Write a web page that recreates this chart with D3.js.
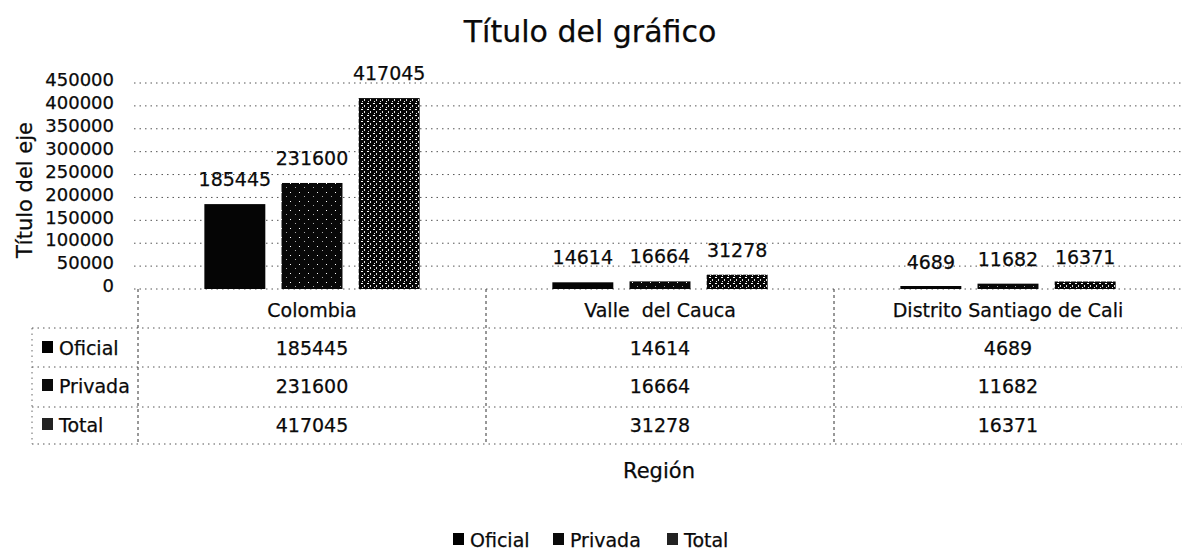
<!DOCTYPE html>
<html>
<head>
    <meta charset="utf-8">
    <style>
        body {
            margin: 0;
            background: #fff;
        }
        svg {
            display: block;
            font-family: 'DejaVu Sans', 'Open Sans', sans-serif;
        }
        svg text {
            stroke: #0a0a0a;
            stroke-width: 0.25px;
        }
    </style>
</head>
<body>
    <svg width="1204" height="550"></svg>
<script src="https://d3js.org/d3.v7.min.js"></script>
<script>
    // data
    let regions = ["Colombia", "Valle  del Cauca", "Distrito Santiago de Cali"];
    let series = ["Oficial", "Privada", "Total"];
    let oficial = [185445, 14614, 4689];
    let privada = [231600, 16664, 11682];
    let total = [417045, 31278, 16371];
    let yTicks = [0, 50000, 100000, 150000, 200000, 250000, 300000, 350000, 400000, 450000];

    let values = { Oficial: oficial, Privada: privada, Total: total };

    let svg = d3.select("svg");
    let margin = { top: 83, left: 138, right: 22 };
    let width = 1204 - margin.left - margin.right;
    let plotBottom = 289;
    let ink = "#0a0a0a";

    // speckle textures, the scan looks grainy
    let defs = svg.append("defs");
    let p1 = defs.append("pattern").attr("id", "pat-privada")
        .attr("width", 9).attr("height", 9).attr("patternUnits", "userSpaceOnUse");
    p1.append("rect").attr("width", 9).attr("height", 9).attr("fill", "#080808");
    p1.append("rect").attr("x", 2).attr("y", 3).attr("width", 1).attr("height", 1).attr("fill", "#fff");
    p1.append("rect").attr("x", 7).attr("y", 7).attr("width", 1).attr("height", 1).attr("fill", "#aaa");
    let p2 = defs.append("pattern").attr("id", "pat-total")
        .attr("width", 6).attr("height", 6).attr("patternUnits", "userSpaceOnUse");
    p2.append("rect").attr("width", 6).attr("height", 6).attr("fill", "#050505");
    p2.append("rect").attr("x", 1).attr("y", 1).attr("width", 2).attr("height", 1).attr("fill", "#fff");
    p2.append("rect").attr("x", 4).attr("y", 3).attr("width", 1).attr("height", 2).attr("fill", "#ddd");
    p2.append("rect").attr("x", 2).attr("y", 5).attr("width", 1).attr("height", 1).attr("fill", "#eee");

    let fills = { Oficial: "#050505", Privada: "url(#pat-privada)", Total: "url(#pat-total)" };
    let keyFills = { Oficial: "#000", Privada: "#0a0a0a", Total: "#222" };

    let x = d3.scaleBand()
        .domain(regions)
        .range([margin.left, margin.left + width]);

    let xInner = d3.scaleBand()
        .domain(series)
        .range([0, x.bandwidth()])
        .paddingInner(0.21)
        .paddingOuter(0.86);

    let y = d3.scaleLinear()
        .domain([0, 450000])
        .range([plotBottom, margin.top]);

    // title
    svg.append("text")
        .attr("x", 590).attr("y", 42)
        .attr("text-anchor", "middle")
        .attr("font-size", 30)
        .attr("fill", ink)
        .text("Título del gráfico");

    // gridlines
    svg.append("g")
        .selectAll("line")
        .data(yTicks)
        .join("line")
        .attr("x1", margin.left - 4)
        .attr("x2", margin.left + width)
        .attr("y1", d => y(d))
        .attr("y2", d => y(d))
        .attr("stroke", "#555")
        .attr("stroke-width", 1)
        .attr("stroke-dasharray", "1.5,4");

    // y axis labels
    let yAxis = svg.append("g")
        .attr("transform", "translate(114,-3)")
        .call(d3.axisLeft(y).tickValues(yTicks).tickSize(0).tickPadding(0).tickFormat(d3.format("d")));
    yAxis.select(".domain").remove();
    yAxis.selectAll("text")
        .attr("font-family", "'DejaVu Sans', 'Open Sans', sans-serif")
        .attr("font-size", 18)
        .attr("fill", ink);

    svg.append("text")
        .attr("transform", `translate(32,190) rotate(-90)`)
        .attr("text-anchor", "middle")
        .attr("font-size", 21)
        .attr("fill", ink)
        .text("Título del eje");

    // bars
    let barData = [];
    regions.forEach((r, i) => {
        series.forEach(s => {
            barData.push({ region: r, series: s, value: values[s][i] });
        });
    });

    svg.append("g")
        .selectAll("rect")
        .data(barData)
        .join("rect")
        .attr("x", d => x(d.region) + xInner(d.series))
        .attr("width", xInner.bandwidth())
        .attr("y", d => Math.min(y(d.value), plotBottom - 3))
        .attr("height", d => Math.max(plotBottom - y(d.value), 3))
        .attr("fill", d => fills[d.series]);

    svg.append("g")
        .selectAll("text")
        .data(barData)
        .join("text")
        .attr("x", d => x(d.region) + xInner(d.series) + xInner.bandwidth() / 2)
        .attr("y", d => y(d.value) - 18)
        .attr("text-anchor", "middle")
        .attr("font-size", 19)
        .attr("fill", ink)
        .text(d => d.value);

    // data table under the axis
    let rowLines = [328, 367, 407, 444];
    let baselines = [355, 393, 432];
    let tableLeft = 32;
    let tableRight = margin.left + width;
    let table = svg.append("g");

    table.selectAll(".hline")
        .data(rowLines)
        .join("line")
        .attr("class", "hline")
        .attr("x1", tableLeft)
        .attr("x2", tableRight)
        .attr("y1", d => d)
        .attr("y2", d => d)
        .attr("stroke", "#555")
        .attr("stroke-dasharray", "1.5,4");

    let vlines = [margin.left, x(regions[1]), x(regions[2])];
    table.selectAll(".vline")
        .data(vlines)
        .join("line")
        .attr("class", "vline")
        .attr("x1", d => d)
        .attr("x2", d => d)
        .attr("y1", plotBottom)
        .attr("y2", rowLines[3])
        .attr("stroke", "#333")
        .attr("stroke-dasharray", "3,3");

    table.append("line")
        .attr("x1", tableLeft).attr("x2", tableLeft)
        .attr("y1", rowLines[0]).attr("y2", rowLines[3])
        .attr("stroke", "#666")
        .attr("stroke-dasharray", "1.5,4");

    table.selectAll(".cat")
        .data(regions)
        .join("text")
        .attr("class", "cat")
        .attr("x", d => x(d) + x.bandwidth() / 2)
        .attr("y", 317)
        .attr("text-anchor", "middle")
        .attr("font-size", 19)
        .attr("fill", ink)
        .style("white-space", "pre")
        .text(d => d);

    series.forEach((s, j) => {
        let base = baselines[j];
        table.append("rect")
            .attr("x", 42).attr("y", base - 14)
            .attr("width", 11).attr("height", 12)
            .attr("fill", keyFills[s]);
        table.append("text")
            .attr("x", 59).attr("y", base)
            .attr("font-size", 19)
            .attr("fill", ink)
            .text(s);
        table.selectAll(".v" + j)
            .data(regions)
            .join("text")
            .attr("x", d => x(d) + x.bandwidth() / 2)
            .attr("y", base)
            .attr("text-anchor", "middle")
            .attr("font-size", 19)
            .attr("fill", ink)
            .text((d, i) => values[s][i]);
    });

    // x axis title
    svg.append("text")
        .attr("x", 659).attr("y", 478)
        .attr("text-anchor", "middle")
        .attr("font-size", 21)
        .attr("fill", ink)
        .text("Región");

    // legend
    let legendX = [453, 553, 667];
    let legend = svg.append("g")
        .selectAll("g")
        .data(series)
        .join("g")
        .attr("transform", (d, i) => `translate(${legendX[i]},547)`);
    legend.append("rect")
        .attr("x", 0).attr("y", -14)
        .attr("width", 11).attr("height", 12)
        .attr("fill", d => keyFills[d]);
    legend.append("text")
        .attr("x", 17).attr("y", 0)
        .attr("font-size", 19)
        .attr("fill", ink)
        .text(d => d);
</script>
</body>
</html>
